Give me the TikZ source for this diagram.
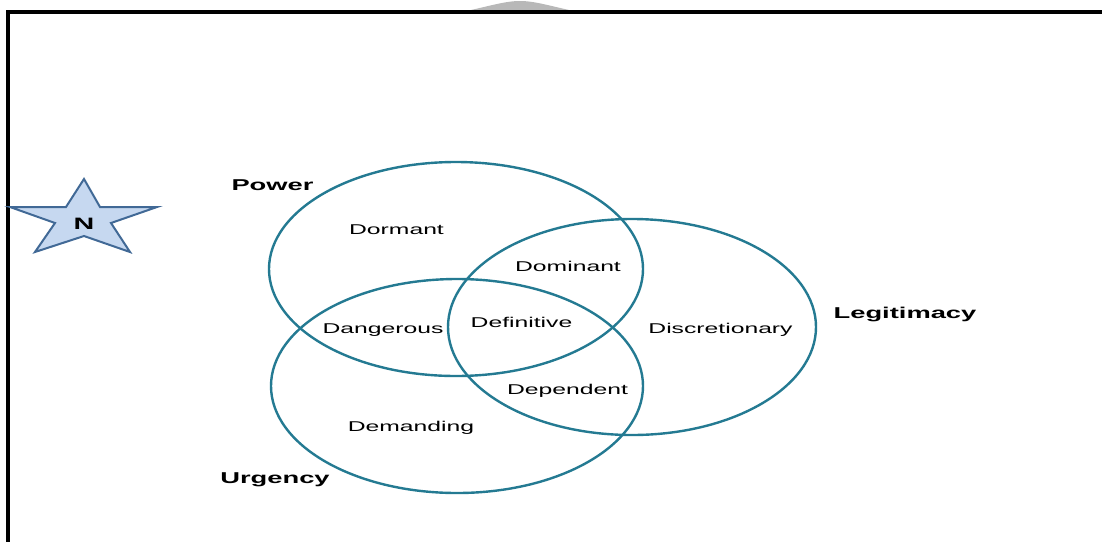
\documentclass[tikz,border=0pt]{standalone}
\usepackage{fontspec}
\newfontfamily\labfont[FakeStretch=1.74]{Liberation Sans}
\definecolor{ring}{RGB}{36,122,146}
\definecolor{starfill}{RGB}{198,216,240}
\definecolor{starline}{RGB}{65,105,150}
\tikzset{
  ringline/.style={draw=ring, line width=2.4pt},
  lab/.style={anchor=base, inner sep=0pt, font=\labfont\fontsize{14.2}{16}\selectfont, text=black},
  head/.style={anchor=base, inner sep=0pt, font=\labfont\bfseries\fontsize{15.7}{18}\selectfont, text=black},
}
\begin{document}
\begin{tikzpicture}[x=1pt,y=-1pt]
\useasboundingbox (0,0) rectangle (1102,542);
\fill[white] (0,0) rectangle (1102,542);
% faint watermark at top
\fill[black!28] (462,12) .. controls (490,6) and (505,1) .. (520,1)
  .. controls (535,1) and (550,6) .. (578,12) -- cycle;
% frame
\draw[line width=4pt] (6,12) -- (1102,12);
\draw[line width=3.5pt] (8,10) -- (8,542);
% ellipses
\draw[ringline] (456,269) ellipse [x radius=187, y radius=107];
\draw[ringline] (632,327) ellipse [x radius=184, y radius=108];
\draw[ringline] (457,386) ellipse [x radius=186, y radius=107];
% star
\draw[fill=starfill, draw=starline, line width=2pt, line join=miter]
  (84,179) -- (100,207) -- (157,207) -- (111,223) -- (130,252) -- (84,236)
  -- (35,252) -- (55,223) -- (10,207) -- (66,207) -- cycle;
\node[head, font=\labfont\bfseries\fontsize{16.5}{18}\selectfont] (n) at (84,229) {N};
% labels
\node[head] (power) at (272.5,190) {Power};
\node[head] (legit) at (905,318) {Legitimacy};
\node[head] (urg) at (275,483) {Urgency};
\node[lab] (dormant) at (396.5,234) {Dormant};
\node[lab] (dominant) at (568,271) {Dominant};
\node[lab] (dangerous) at (383,333) {Dangerous};
\node[lab] (definitive) at (521.5,327) {Definitive};
\node[lab] (discretionary) at (720.5,333) {Discretionary};
\node[lab] (dependent) at (567.5,394) {Dependent};
\node[lab] (demanding) at (411,431) {Demanding};
\end{tikzpicture}
\end{document}
